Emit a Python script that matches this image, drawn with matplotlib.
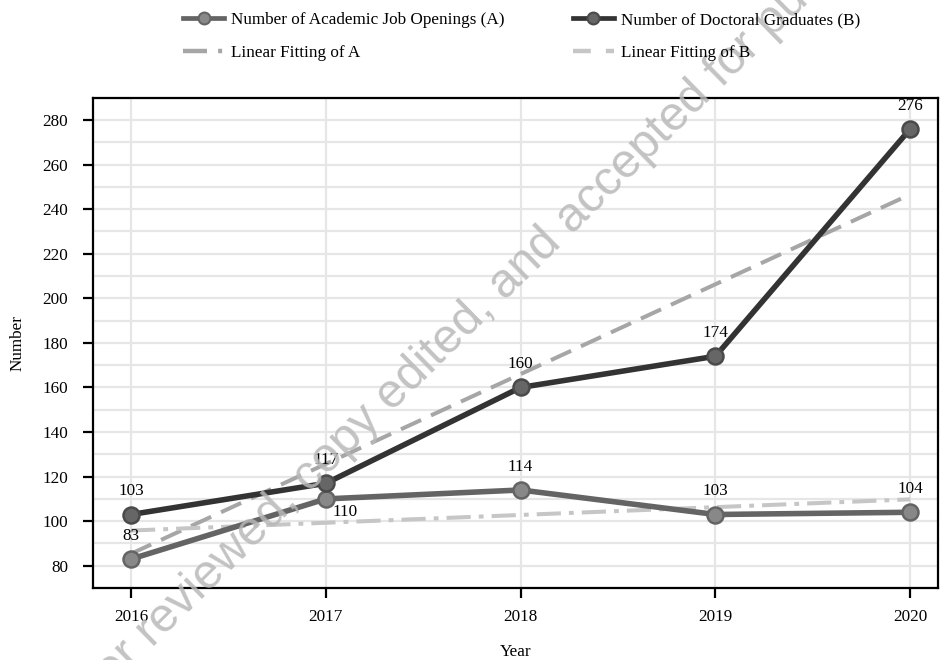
import matplotlib
matplotlib.use("Agg")
import matplotlib.pyplot as plt
from matplotlib.lines import Line2D
from matplotlib.ticker import MultipleLocator

years = [2016, 2017, 2018, 2019, 2020]
job_openings = [83, 110, 114, 103, 104]
doctoral_grads = [103, 117, 160, 174, 276]
fit_a_ends = [95.8, 109.8]   # linear fit of A at 2016 and 2020
fit_b_ends = [85.4, 246.6]   # linear fit of B at 2016 and 2020
fit_years = [2016, 2020]

label_a = "Number of Academic Job Openings (A)"
label_b = "Number of Doctoral Graduates (B)"
label_fa = "Linear Fitting of A"
label_fb = "Linear Fitting of B"

plt.rcParams['font.family'] = ['Liberation Serif', 'DejaVu Serif']
FS = 12.3

fig = plt.figure(figsize=(9.4, 6.6), dpi=100)
ax = fig.add_axes([0.099, 0.109, 0.899, 0.743])

ax.set_xlim(2015.805, 2020.143)
ax.set_ylim(70, 290)
ax.yaxis.set_major_locator(MultipleLocator(20))
ax.yaxis.set_minor_locator(MultipleLocator(10))
ax.set_xticks(years)
ax.set_xticklabels([str(y) for y in years])

ax.grid(True, which='major', color='#e6e6e6', linewidth=1.6, zorder=0)
ax.grid(True, which='minor', axis='y', color='#e6e6e6', linewidth=1.6, zorder=0)
ax.set_axisbelow(True)

for s in ['left', 'bottom', 'top', 'right']:
    ax.spines[s].set_linewidth(1.6)
    ax.spines[s].set_color('black')
ax.tick_params(axis='both', which='major', direction='out', length=7, width=1.6,
               labelsize=FS, colors='black')
ax.tick_params(axis='x', pad=8)
ax.tick_params(axis='y', pad=11)
ax.tick_params(axis='y', which='minor', length=0)

# fits
ax.plot(fit_years, fit_b_ends, color='#a6a6a6', linewidth=2.9, dashes=(5.5, 2.7), zorder=2)
ax.plot(fit_years, fit_a_ends, color='#c6c6c6', linewidth=2.9, dashes=(6, 2, 1.2, 2), zorder=2)

# main lines
ax.plot(years, job_openings, color='#646464', linewidth=4, marker='o', markersize=11.5,
        markerfacecolor='#888888', markeredgecolor='#646464', markeredgewidth=1.8, zorder=3)
ax.plot(years, doctoral_grads, color='#333333', linewidth=4, marker='o', markersize=11.5,
        markerfacecolor='#666666', markeredgecolor='#4a4a4a', markeredgewidth=1.8, zorder=4)

for x, y in zip(years, doctoral_grads):
    ax.annotate(str(y), (x, y), xytext=(0, 11), textcoords='offset points',
                ha='center', va='bottom', fontsize=FS, zorder=5)
for i, (x, y) in enumerate(zip(years, job_openings)):
    if i == 1:
        ax.annotate(str(y), (x, y), xytext=(14, -9.5), textcoords='offset points',
                    ha='center', va='center', fontsize=FS, zorder=5)
    else:
        ax.annotate(str(y), (x, y), xytext=(0, 11), textcoords='offset points',
                    ha='center', va='bottom', fontsize=FS, zorder=5)

ax.set_xlabel("Year", fontsize=FS, labelpad=14)
ax.set_ylabel("Number", fontsize=FS, labelpad=12)

handles = [
    Line2D([], [], color='#646464', linewidth=3.4, marker='o', markersize=8.5,
           markerfacecolor='#888888', markeredgecolor='#646464', markeredgewidth=1.5),
    Line2D([], [], color='#a6a6a6', linewidth=3.2, dashes=(5.4, 2.5, 0.9, 10)),
    Line2D([], [], color='#333333', linewidth=3.4, marker='o', markersize=8.5,
           markerfacecolor='#666666', markeredgecolor='#4a4a4a', markeredgewidth=1.5),
    Line2D([], [], color='#c6c6c6', linewidth=3.2, dashes=(4, 3.4)),
]
labels = [label_a, label_fa, label_b, label_fb]
leg = fig.legend(handles, labels, loc='upper left', bbox_to_anchor=(0.182, 1.0), ncol=2,
                 frameon=False, fontsize=FS, handlelength=2.4, handletextpad=0.4,
                 columnspacing=4.0, labelspacing=1.0, borderaxespad=0.3)
leg.set_zorder(6)

# watermark
fig.text(0.074, -0.1045, "Peer reviewed, copy edited, and accepted for publication",
         fontsize=34.8, family='Liberation Sans', color='#b8b8b8', alpha=0.85,
         rotation=44.5, rotation_mode='anchor', ha='left', va='baseline', zorder=4)

fig.savefig("out.png", dpi=100)
